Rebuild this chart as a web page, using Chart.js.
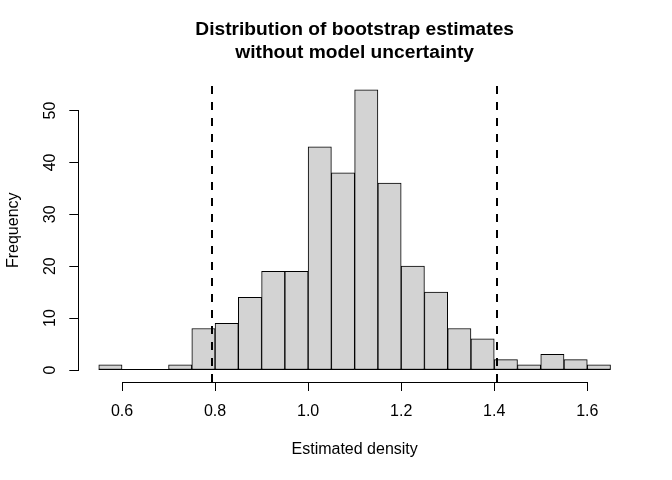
<!DOCTYPE html>
<html>
<head>
<meta charset="utf-8">
<title>Distribution of bootstrap estimates</title>
<script src="https://cdn.jsdelivr.net/npm/chart.js@4.4.0/dist/chart.umd.min.js"></script>
<style>
  body { margin: 0; background: #ffffff; }
</style>
</head>
<body>
<canvas id="bootHist" width="672" height="480"></canvas>
<script>
// histogram bins (left edges, width 0.05) and their counts
var binStarts = [0.55, 0.60, 0.65, 0.70, 0.75, 0.80, 0.85, 0.90, 0.95, 1.00, 1.05,
                 1.10, 1.15, 1.20, 1.25, 1.30, 1.35, 1.40, 1.45, 1.50, 1.55, 1.60];
var binWidth = 0.05;
var counts = [1, 0, 0, 1, 8, 9, 14, 19, 19, 43, 38,
              54, 36, 20, 15, 8, 6, 2, 1, 3, 2, 1];
var xTickValues = [0.6, 0.8, 1.0, 1.2, 1.4, 1.6];
var yTickValues = [0, 10, 20, 30, 40, 50];
// dashed reference lines
var intervalLimits = [0.793, 1.407];

Chart.defaults.font.family = "'Liberation Sans', Arial, sans-serif";
Chart.defaults.font.size = 16;
Chart.defaults.color = '#000';

var histPoints = binStarts.map(function (s, i) {
  return { x: s + binWidth / 2, y: counts[i] };
});

// R style axis lines (first to last tick), zero line under bins, dashed limits
var rStylePlugin = {
  id: 'rStyle',
  afterDatasetsDraw: function (chart) {
    var ctx = chart.ctx;
    var xs = chart.scales.x;
    var ys = chart.scales.y;
    var area = chart.chartArea;
    ctx.save();
    ctx.strokeStyle = '#000';
    ctx.lineWidth = 1;

    // zero line across all bins, so empty bins show too
    var y0 = Math.round(ys.getPixelForValue(0)) - 0.5;
    ctx.beginPath();
    ctx.moveTo(xs.getPixelForValue(binStarts[0]), y0);
    ctx.lineTo(xs.getPixelForValue(binStarts[binStarts.length - 1] + binWidth), y0);
    ctx.stroke();

    // x axis line
    var xa = Math.round(area.bottom) + 0.5;
    ctx.beginPath();
    ctx.moveTo(Math.round(xs.getPixelForValue(xTickValues[0])), xa);
    ctx.lineTo(Math.round(xs.getPixelForValue(xTickValues[xTickValues.length - 1])) + 1, xa);
    ctx.stroke();

    // y axis line
    var ya = Math.round(area.left) + 0.5;
    ctx.beginPath();
    ctx.moveTo(ya, Math.round(ys.getPixelForValue(yTickValues[yTickValues.length - 1])));
    ctx.lineTo(ya, Math.round(ys.getPixelForValue(yTickValues[0])) + 1);
    ctx.stroke();

    // dashed limits
    ctx.lineWidth = 2;
    ctx.setLineDash([8, 8]);
    intervalLimits.forEach(function (v) {
      var px = Math.round(xs.getPixelForValue(v));
      ctx.beginPath();
      ctx.moveTo(px, area.bottom);
      ctx.lineTo(px, area.top);
      ctx.stroke();
    });
    ctx.restore();
  }
};

var ctx = document.getElementById('bootHist').getContext('2d');

var histChart = new Chart(ctx, {
  type: 'bar',
  data: {
    datasets: [{
      data: histPoints,
      backgroundColor: '#D3D3D3',
      borderColor: '#000000',
      borderWidth: 1,
      borderSkipped: false,
      barPercentage: 1.0,
      categoryPercentage: 1.0
    }]
  },
  options: {
    responsive: false,
    animation: false,
    layout: { padding: { left: 0, right: 41, top: 0, bottom: 0 } },
    plugins: {
      legend: { display: false },
      tooltip: { enabled: false },
      title: {
        display: true,
        fullSize: false,
        text: ['Distribution of bootstrap estimates', 'without model uncertainty'],
        color: '#000',
        font: { size: 19.2, weight: 'bold', lineHeight: 1.18 },
        padding: { top: 18.5, bottom: 14.7 }
      }
    },
    scales: {
      x: {
        type: 'linear',
        min: 0.506,
        max: 1.694,
        offset: false,
        afterBuildTicks: function (scale) {
          scale.ticks = xTickValues.map(function (v) { return { value: v }; });
        },
        afterFit: function (scale) { scale.height = 98; },
        grid: {
          display: true,
          offset: false,
          drawOnChartArea: false,
          drawTicks: true,
          tickLength: 9,
          color: '#000',
          lineWidth: 1
        },
        border: { display: false },
        ticks: {
          autoSkip: false,
          maxRotation: 0,
          padding: 10.6,
          color: '#000',
          callback: function (v) { return Number(v).toFixed(1); }
        },
        title: {
          display: true,
          text: 'Estimated density',
          color: '#000',
          padding: { top: 0, bottom: 21 }
        }
      },
      y: {
        type: 'linear',
        min: -2.31,
        max: 56.16,
        afterBuildTicks: function (scale) {
          scale.ticks = yTickValues.map(function (v) { return { value: v }; });
        },
        afterFit: function (scale) { scale.width = 78.3; },
        grid: {
          display: true,
          drawOnChartArea: false,
          drawTicks: true,
          tickLength: 9,
          color: '#000',
          lineWidth: 1
        },
        border: { display: false },
        ticks: {
          autoSkip: false,
          minRotation: 90,
          maxRotation: 90,
          crossAlign: 'center',
          padding: 9.9,
          color: '#000'
        },
        title: {
          display: true,
          text: 'Frequency',
          color: '#000',
          padding: { top: 3.8, bottom: 0 }
        }
      }
    }
  },
  plugins: [rStylePlugin]
});
</script>
</body>
</html>
